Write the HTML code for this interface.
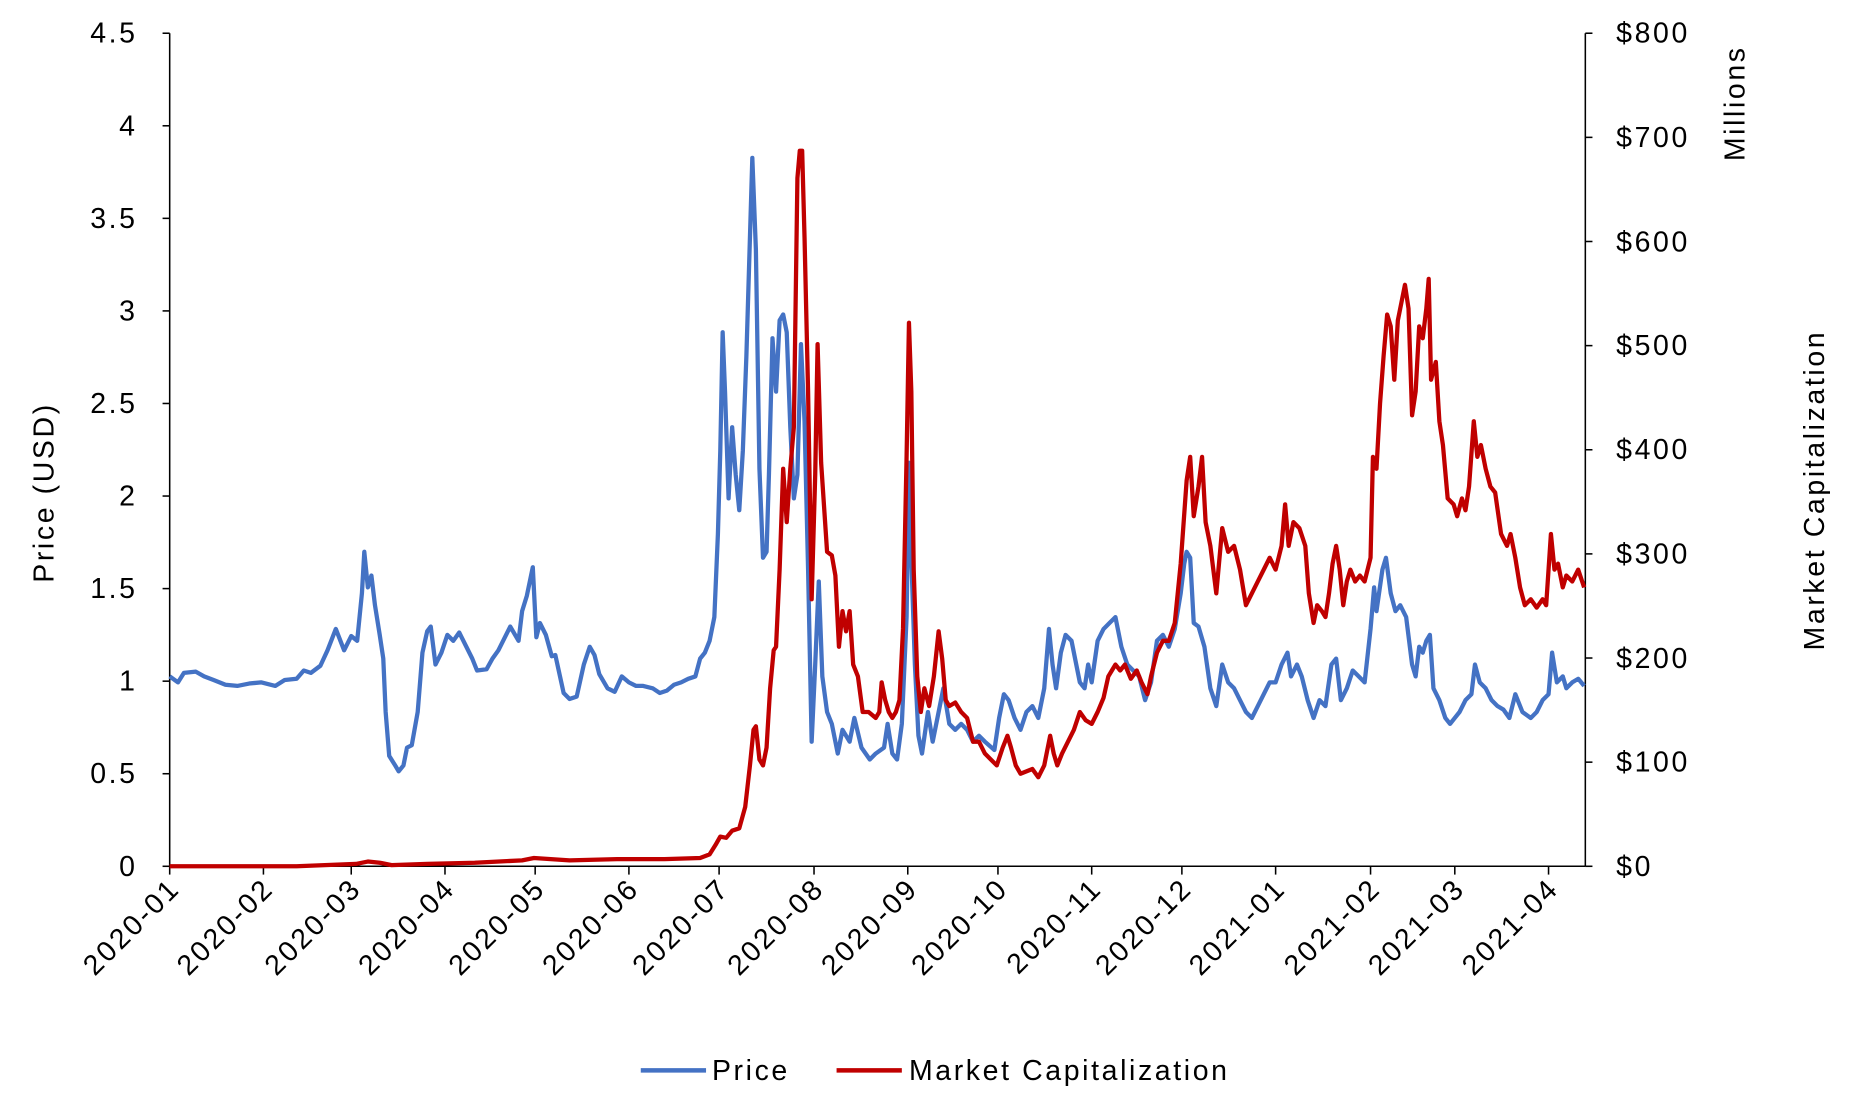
<!DOCTYPE html>
<html><head><meta charset="utf-8"><style>
html,body{margin:0;padding:0;background:#fff;}
svg{display:block;}
text{font-family:"Liberation Sans",Arial,sans-serif;fill:#000;font-size:24px;letter-spacing:2.2px;}
</style></head><body>
<svg width="1863" height="1106" viewBox="0 0 1570 932" preserveAspectRatio="none" xmlns="http://www.w3.org/2000/svg">
<g stroke="#000" stroke-width="1.3" fill="none">
<line x1="143" y1="28" x2="143" y2="730"/>
<line x1="143" y1="730" x2="1336" y2="730"/>
<line x1="1336" y1="28" x2="1336" y2="730"/>
<g>
<line x1="137" y1="730" x2="143" y2="730"/><line x1="137" y1="652" x2="143" y2="652"/><line x1="137" y1="574" x2="143" y2="574"/><line x1="137" y1="496" x2="143" y2="496"/><line x1="137" y1="418" x2="143" y2="418"/><line x1="137" y1="340" x2="143" y2="340"/><line x1="137" y1="262" x2="143" y2="262"/><line x1="137" y1="184" x2="143" y2="184"/><line x1="137" y1="106" x2="143" y2="106"/><line x1="137" y1="28" x2="143" y2="28"/>
<line x1="1336" y1="730" x2="1342" y2="730"/><line x1="1336" y1="642.25" x2="1342" y2="642.25"/><line x1="1336" y1="554.5" x2="1342" y2="554.5"/><line x1="1336" y1="466.75" x2="1342" y2="466.75"/><line x1="1336" y1="379" x2="1342" y2="379"/><line x1="1336" y1="291.25" x2="1342" y2="291.25"/><line x1="1336" y1="203.5" x2="1342" y2="203.5"/><line x1="1336" y1="115.75" x2="1342" y2="115.75"/><line x1="1336" y1="28" x2="1342" y2="28"/>
</g>
<g>
<line x1="143" y1="730" x2="143" y2="737"/><line x1="222" y1="730" x2="222" y2="737"/><line x1="296" y1="730" x2="296" y2="737"/><line x1="375" y1="730" x2="375" y2="737"/><line x1="451" y1="730" x2="451" y2="737"/><line x1="530" y1="730" x2="530" y2="737"/><line x1="606" y1="730" x2="606" y2="737"/><line x1="686" y1="730" x2="686" y2="737"/><line x1="765" y1="730" x2="765" y2="737"/><line x1="841" y1="730" x2="841" y2="737"/><line x1="920" y1="730" x2="920" y2="737"/><line x1="996" y1="730" x2="996" y2="737"/><line x1="1075" y1="730" x2="1075" y2="737"/><line x1="1155" y1="730" x2="1155" y2="737"/><line x1="1226" y1="730" x2="1226" y2="737"/><line x1="1305" y1="730" x2="1305" y2="737"/>
</g>
</g>
<g text-anchor="end">
<text x="116" y="738">0</text><text x="116" y="660">0.5</text><text x="116" y="582">1</text><text x="116" y="504">1.5</text><text x="116" y="426">2</text><text x="116" y="348">2.5</text><text x="116" y="270">3</text><text x="116" y="192">3.5</text><text x="116" y="114">4</text><text x="116" y="36">4.5</text>
</g>
<g text-anchor="start">
<text x="1362" y="738">$0</text><text x="1362" y="650">$100</text><text x="1362" y="563">$200</text><text x="1362" y="475">$300</text><text x="1362" y="387">$400</text><text x="1362" y="299">$500</text><text x="1362" y="212">$600</text><text x="1362" y="124">$700</text><text x="1362" y="36">$800</text>
</g>
<text text-anchor="middle" transform="translate(45,415) rotate(-90)">Price (USD)</text>
<text text-anchor="middle" transform="translate(1470,87) rotate(-90)">Millions</text>
<text text-anchor="middle" transform="translate(1537,413) rotate(-90)">Market Capitalization</text>
<g text-anchor="end">
<text transform="translate(153,750) rotate(-45)">2020-01</text>
<text transform="translate(232,750) rotate(-45)">2020-02</text>
<text transform="translate(306,750) rotate(-45)">2020-03</text>
<text transform="translate(385,750) rotate(-45)">2020-04</text>
<text transform="translate(461,750) rotate(-45)">2020-05</text>
<text transform="translate(540,750) rotate(-45)">2020-06</text>
<text transform="translate(616,750) rotate(-45)">2020-07</text>
<text transform="translate(696,750) rotate(-45)">2020-08</text>
<text transform="translate(775,750) rotate(-45)">2020-09</text>
<text transform="translate(851,750) rotate(-45)">2020-10</text>
<text transform="translate(930,750) rotate(-45)">2020-11</text>
<text transform="translate(1006,750) rotate(-45)">2020-12</text>
<text transform="translate(1085,750) rotate(-45)">2021-01</text>
<text transform="translate(1165,750) rotate(-45)">2021-02</text>
<text transform="translate(1236,750) rotate(-45)">2021-03</text>
<text transform="translate(1315,750) rotate(-45)">2021-04</text>
</g>
<polyline fill="none" stroke="#4472C4" stroke-width="3.6" stroke-linejoin="round" points="143,570 150,575 155,567 165,566 172,570 180,573 190,577 200,578 210,576 220,575 232,578 240,573 250,572 256,565 262,567 270,561 276,548 283,530 290,548 296,536 301,540 305,500 307,465 310,495 313,485 316,510 320,535 323,555 325,600 328,637 333,645 336,650 340,645 343,630 347,628 352,600 356,550 360,532 363,528 367,560 372,550 377,535 382,540 387,533 393,545 398,555 402,565 410,564 415,555 420,548 425,538 430,528 437,540 440,515 444,502 449,478 452,537 455,525 460,535 465,553 468,552 475,584 480,589 486,587 492,560 497,545 501,552 505,568 512,580 518,583 524,570 530,575 536,578 542,578 550,580 556,584 562,582 568,577 574,575 580,572 586,570 590,555 594,550 598,540 602,520 605,450 607,380 609,280 611,330 614,420 617,360 620,400 623,430 626,380 629,300 632,200 634,133 637,210 640,395 643,470 646,465 648,400 651,285 654,330 657,270 660,265 663,280 666,360 669,420 672,400 675,290 678,355 681,480 684,625 687,560 690,490 693,570 697,600 701,610 706,635 710,615 716,625 720,605 726,630 733,640 738,635 745,630 748,610 752,635 756,640 760,610 764,520 766,390 768,470 771,560 774,620 777,635 782,600 786,625 790,605 795,580 800,610 805,615 810,610 815,615 820,625 825,620 830,625 838,632 842,605 846,585 850,590 855,605 860,615 865,600 870,595 875,605 880,580 884,530 887,560 890,580 894,550 898,535 903,540 907,560 910,575 914,580 917,560 920,575 925,540 930,530 935,525 940,520 945,545 950,560 955,565 960,570 965,590 970,575 975,540 980,535 985,545 990,530 995,500 998,475 1000,465 1003,470 1006,525 1010,528 1015,545 1020,580 1025,595 1030,560 1035,575 1040,580 1045,590 1050,600 1055,605 1060,595 1065,585 1070,575 1075,575 1080,560 1085,550 1088,570 1093,560 1097,570 1102,590 1107,605 1112,590 1117,595 1122,560 1126,555 1130,590 1135,580 1140,565 1145,570 1150,575 1155,530 1158,495 1160,515 1165,480 1168,470 1172,500 1176,515 1180,510 1185,520 1190,560 1193,570 1196,545 1199,550 1202,540 1205,535 1208,580 1213,590 1218,605 1222,610 1226,605 1230,600 1235,590 1240,585 1243,560 1247,575 1252,580 1257,590 1262,595 1267,598 1272,605 1277,585 1283,600 1290,605 1295,600 1300,590 1305,585 1308,550 1312,575 1317,570 1320,580 1325,575 1330,572 1335,578"/>
<polyline fill="none" stroke="#C00000" stroke-width="3.6" stroke-linejoin="round" points="143,730 250,730 300,728 310,726 320,727 330,729 360,728 400,727 440,725 450,723 480,725 520,724 560,724 590,723 598,720 603,712 607,705 612,706 617,700 623,698 628,680 632,645 635,615 637,612 640,640 643,645 646,630 649,580 652,548 654,545 657,480 660,395 663,440 666,395 669,360 672,150 674,127 676,127 678,200 681,330 684,505 687,400 689,290 692,390 697,465 701,468 704,485 707,545 710,515 713,532 716,515 719,560 723,570 727,600 732,600 738,605 741,600 743,575 746,590 749,600 752,605 755,600 758,590 761,530 764,385 766,272 768,330 770,480 773,570 776,600 779,580 783,595 787,570 791,532 794,555 797,590 800,595 805,592 810,600 815,605 820,625 825,625 830,635 835,640 840,645 845,630 849,620 852,630 856,645 860,652 865,650 870,648 875,655 880,645 885,620 888,635 891,645 895,635 900,625 905,615 910,600 915,607 920,610 925,600 930,588 934,570 937,565 940,560 944,565 948,560 953,572 958,565 962,575 967,585 970,570 975,550 980,540 985,540 990,525 995,475 1000,405 1003,385 1006,435 1010,410 1013,385 1016,440 1020,460 1025,500 1030,445 1035,465 1040,460 1045,480 1050,510 1055,500 1060,490 1065,480 1070,470 1075,480 1080,460 1083,425 1086,460 1090,440 1095,445 1100,460 1103,500 1107,525 1110,510 1114,515 1117,520 1120,500 1123,475 1126,460 1129,480 1132,510 1135,490 1138,480 1142,490 1146,485 1150,490 1155,470 1157,385 1160,395 1163,340 1166,300 1169,265 1172,275 1175,320 1178,270 1181,255 1184,240 1187,260 1190,350 1193,330 1196,275 1199,285 1202,260 1204,235 1206,320 1210,305 1213,355 1216,375 1220,420 1225,425 1228,435 1232,420 1235,430 1238,410 1242,355 1245,385 1248,375 1252,395 1256,410 1260,415 1265,450 1270,460 1273,450 1277,470 1281,495 1285,510 1290,505 1295,512 1300,505 1303,510 1307,450 1310,480 1313,475 1317,495 1320,485 1325,490 1330,480 1335,495"/>
<line x1="540" y1="902" x2="595" y2="902" stroke="#4472C4" stroke-width="3.8"/>
<text x="600" y="910">Price</text>
<line x1="705" y1="902" x2="760" y2="902" stroke="#C00000" stroke-width="3.8"/>
<text x="766" y="910">Market Capitalization</text>
</svg>
</body></html>
